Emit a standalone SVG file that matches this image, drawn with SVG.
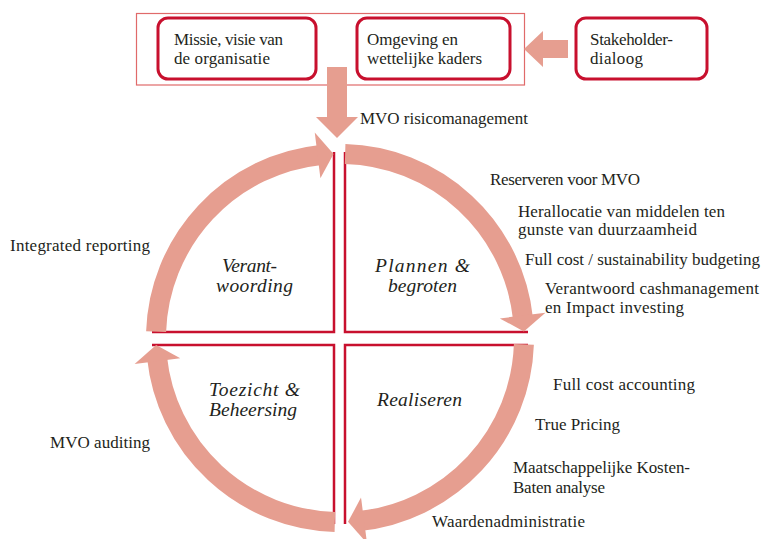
<svg xmlns="http://www.w3.org/2000/svg" width="767" height="539" viewBox="0 0 767 539">
<style>
.t{font-family:"Liberation Serif","Times New Roman",serif;font-size:17px;fill:#231f20}
.it{font-family:"Liberation Serif","Times New Roman",serif;font-size:19.5px;font-style:italic;fill:#231f20}
.box{fill:#fff;stroke:#c8102e;stroke-width:3}
.frame{fill:none;stroke:#e06a6a;stroke-width:1.2}
.q{fill:none;stroke:#c8102e;stroke-width:2.5}
.arc{fill:none;stroke:#e69e90;stroke-width:20}
.head{fill:#e69e90}
</style>
<rect width="767" height="539" fill="#fff"/>
<g id="frame"><rect class="frame" x="136.5" y="13.5" width="388" height="71.5"/></g>
<g id="quadrants">
<path class="q" d="M152,332 H334 V152"/>
<path class="q" d="M345,152 V332 H528"/>
<path class="q" d="M152,345 H334 V524"/>
<path class="q" d="M528,345 H345 V524"/>
</g>
<g id="connectors">
<polygon class="head" points="327,67 347,67 347,117 358,117 337,138 316,117 327,117"/>
<polygon class="head" points="568,40 568,58 543,58 543,67 524,49 543,31 543,40"/>
<path class="arc" d="M156.11,331.58 A184,184 0 0 1 320.77,155.01"/>
<polygon class="head" points="333.58,154.11 320.38,178.20 314.77,132.54"/>
<path class="arc" d="M345.14,154.07 A184,184 0 0 1 522.99,318.77"/>
<polygon class="head" points="523.89,331.58 499.80,318.38 545.46,312.77"/>
<path class="arc" d="M523.89,344.42 A184,184 0 0 1 359.23,520.99"/>
<polygon class="head" points="348.03,521.83 361.02,497.62 367.02,543.23"/>
<path class="arc" d="M334.86,521.93 A184,184 0 0 1 157.01,357.23"/>
<polygon class="head" points="156.14,345.06 180.27,358.18 134.63,363.94"/>
</g>
<g id="box-missie">
<rect class="box" x="158" y="18" width="158" height="61" rx="10"/>
<text class="t" x="174" y="45" textLength="109" lengthAdjust="spacing">Missie, visie van</text>
<text class="t" x="174" y="64" textLength="96" lengthAdjust="spacing">de organisatie</text>
</g>
<g id="box-omgeving">
<rect class="box" x="357" y="18" width="153" height="61" rx="10"/>
<text class="t" x="367" y="45" textLength="91" lengthAdjust="spacing">Omgeving en</text>
<text class="t" x="367" y="64" textLength="115" lengthAdjust="spacing">wettelijke kaders</text>
</g>
<g id="box-stakeholder">
<rect class="box" x="576" y="18" width="131" height="61" rx="10"/>
<text class="t" x="590" y="45" textLength="83" lengthAdjust="spacing">Stakeholder-</text>
<text class="t" x="590" y="64" textLength="53" lengthAdjust="spacing">dialoog</text>
</g>
<g id="q-verantwoording">
<text class="it" x="222" y="272" textLength="55" lengthAdjust="spacing">Verant-</text>
<text class="it" x="216" y="292" textLength="77" lengthAdjust="spacing">woording</text>
</g>
<g id="q-plannen">
<text class="it" x="375" y="272" textLength="95" lengthAdjust="spacing">Plannen &amp;</text>
<text class="it" x="388" y="292" textLength="69" lengthAdjust="spacing">begroten</text>
</g>
<g id="q-toezicht">
<text class="it" x="209" y="396" textLength="91" lengthAdjust="spacing">Toezicht &amp;</text>
<text class="it" x="209" y="416" textLength="88" lengthAdjust="spacing">Beheersing</text>
</g>
<g id="q-realiseren">
<text class="it" x="377" y="406" textLength="85" lengthAdjust="spacing">Realiseren</text>
</g>
<g id="labels">
<text class="t" x="360" y="124" textLength="168" lengthAdjust="spacing">MVO risicomanagement</text>
<text class="t" x="490" y="185" textLength="150" lengthAdjust="spacing">Reserveren voor MVO</text>
<text class="t" x="518" y="217" textLength="207" lengthAdjust="spacing">Herallocatie van middelen ten</text>
<text class="t" x="518" y="235" textLength="179" lengthAdjust="spacing">gunste van duurzaamheid</text>
<text class="t" x="525" y="265" textLength="235" lengthAdjust="spacing">Full cost / sustainability budgeting</text>
<text class="t" x="545" y="294" textLength="214" lengthAdjust="spacing">Verantwoord cashmanagement</text>
<text class="t" x="545" y="313" textLength="139" lengthAdjust="spacing">en Impact investing</text>
<text class="t" x="10" y="251" textLength="140" lengthAdjust="spacing">Integrated reporting</text>
<text class="t" x="553" y="390" textLength="142" lengthAdjust="spacing">Full cost accounting</text>
<text class="t" x="535" y="430" textLength="85" lengthAdjust="spacing">True Pricing</text>
<text class="t" x="513" y="473" textLength="177" lengthAdjust="spacing">Maatschappelijke Kosten-</text>
<text class="t" x="513" y="493" textLength="92" lengthAdjust="spacing">Baten analyse</text>
<text class="t" x="432" y="527" textLength="153" lengthAdjust="spacing">Waardenadministratie</text>
<text class="t" x="50" y="448" textLength="100" lengthAdjust="spacing">MVO auditing</text>
</g>
</svg>
